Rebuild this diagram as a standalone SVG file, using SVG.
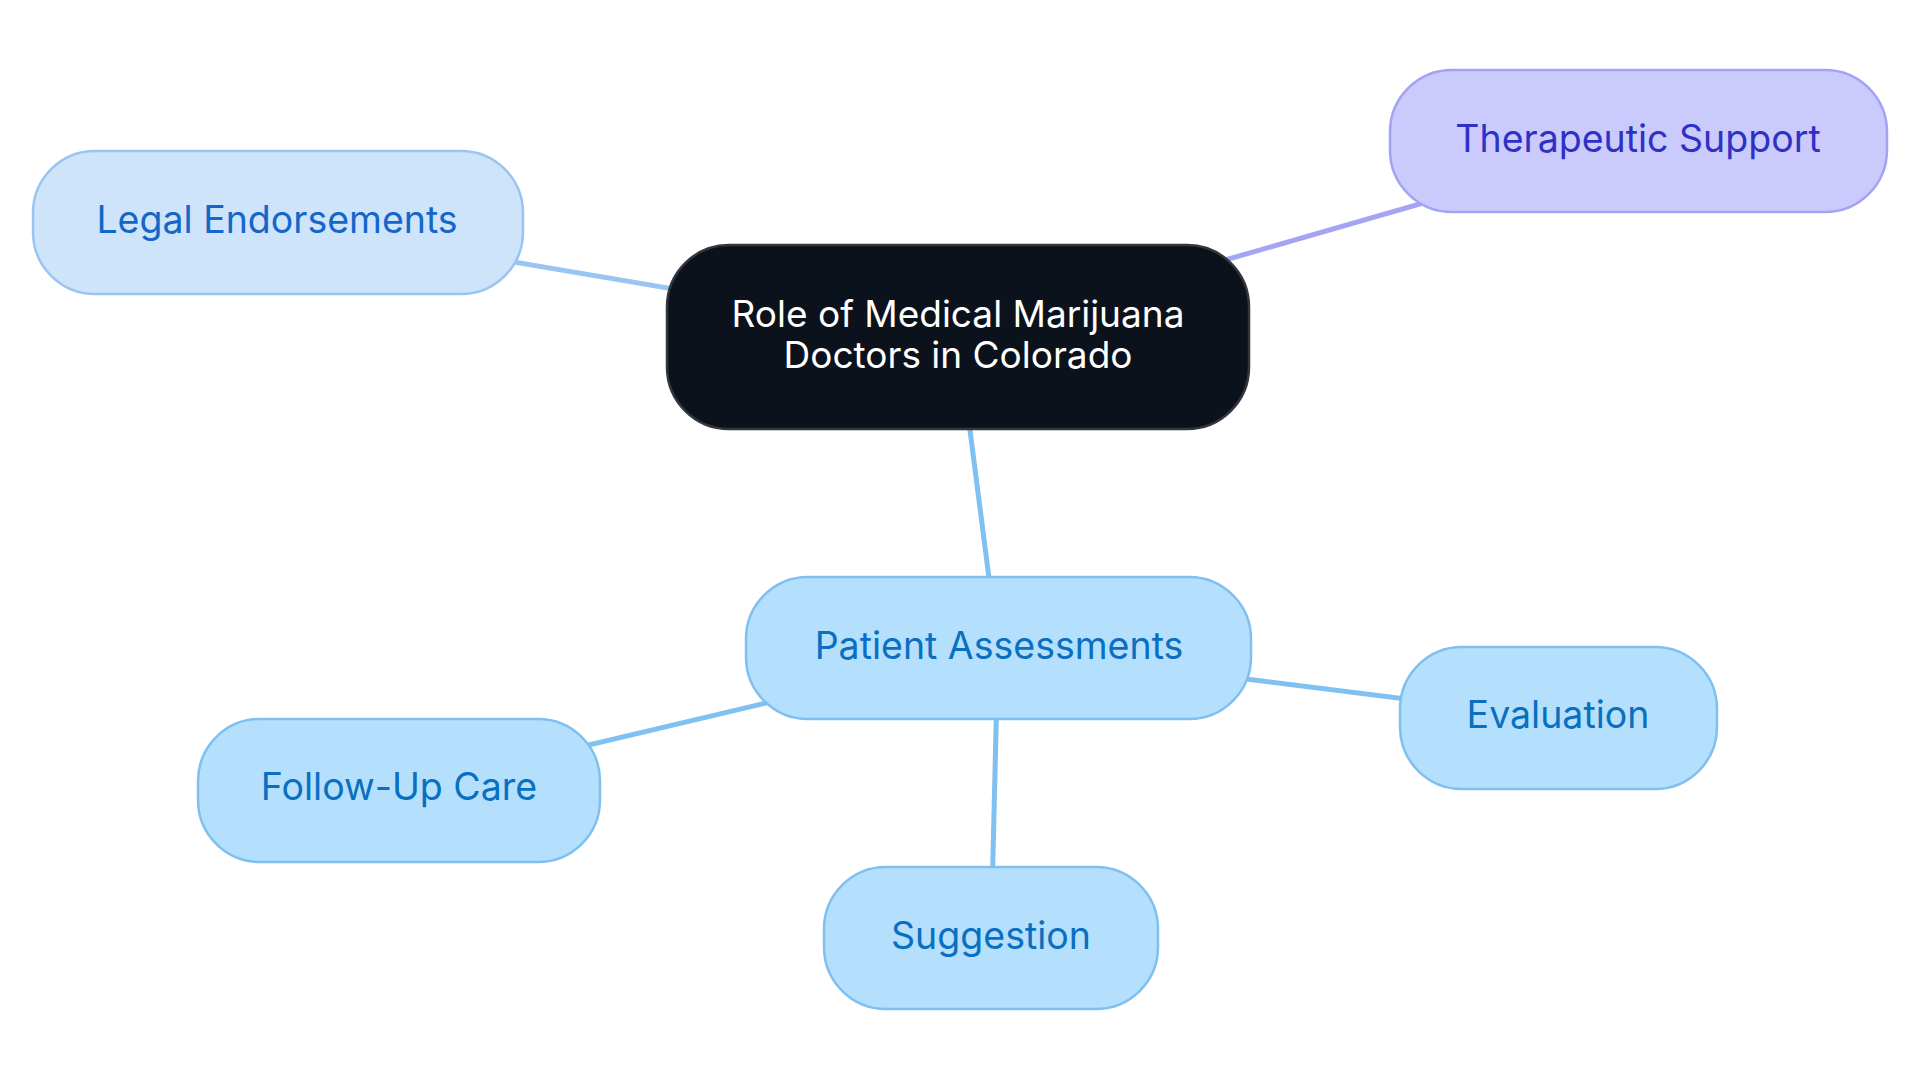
<svg xmlns="http://www.w3.org/2000/svg" width="1920" height="1083" viewBox="0 0 1920 1083">
<style>
text{font-family:Inter,"Noto Sans","Liberation Sans",sans-serif;font-size:37.5px;text-anchor:middle}
.edge{stroke-width:5;fill:none}
.blue{stroke:#7fc1f0}
.lblue{stroke:#98c5f1}
.purple{stroke:#a3a4f4}
.pa rect{fill:#b4e0fd;stroke:#7fc0f0;stroke-width:2.5}
.pa text{fill:#0a6fc0}
.le rect{fill:#cde4fb;stroke:#98c5f1;stroke-width:2.5}
.le text{fill:#1466c9}
.th rect{fill:#cacbfc;stroke:#a2a3f3;stroke-width:2.5}
.th text{fill:#2e30c6}
.root rect{fill:#0c121c;stroke:#33373d;stroke-width:2.5}
.root text{fill:#ffffff;font-size:37px}
</style>
<rect width="1920" height="1083" fill="#ffffff"/>
<g id="connectors">
<line class="edge lblue" x1="277" y1="222" x2="958" y2="337"/>
<line class="edge purple" x1="1638" y1="141" x2="958" y2="337"/>
<line class="edge blue" x1="958" y1="337" x2="998" y2="648"/>
<line class="edge blue" x1="998" y1="648" x2="1558" y2="718"/>
<line class="edge blue" x1="998" y1="648" x2="399" y2="790"/>
<line class="edge blue" x1="998" y1="648" x2="991" y2="938"/>
</g>
<g id="root" class="root">
<rect x="667" y="245" width="582" height="184" rx="62"/>
<text x="958" y="327">Role of Medical Marijuana</text>
<text x="958" y="368">Doctors in Colorado</text>
</g>
<g id="legal" class="le">
<rect x="33" y="151" width="490" height="143" rx="62"/>
<text x="277" y="233">Legal Endorsements</text>
</g>
<g id="therapeutic" class="th">
<rect x="1390" y="70" width="497" height="142" rx="62"/>
<text x="1638" y="152">Therapeutic Support</text>
</g>
<g id="patient" class="pa">
<rect x="746" y="577" width="505" height="142" rx="62"/>
<text x="999" y="659">Patient Assessments</text>
</g>
<g id="evaluation" class="pa">
<rect x="1400" y="647" width="317" height="142" rx="62"/>
<text x="1558" y="728">Evaluation</text>
</g>
<g id="followup" class="pa">
<rect x="198" y="719" width="402" height="143" rx="62"/>
<text x="399" y="800">Follow-Up Care</text>
</g>
<g id="suggestion" class="pa">
<rect x="824" y="867" width="334" height="142" rx="62"/>
<text x="991" y="949">Suggestion</text>
</g>
</svg>
